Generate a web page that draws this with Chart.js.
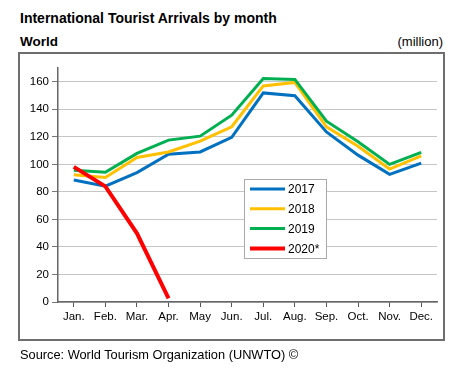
<!DOCTYPE html>
<html>
<head>
<meta charset="utf-8">
<script src="https://cdn.jsdelivr.net/npm/chart.js@4"></script>
<style>
  body { margin: 0; width: 466px; height: 379px; background: #fff; position: relative; overflow: hidden;
         font-family: "Liberation Sans", Arial, sans-serif; color: #000; }
  .txt { position: absolute; white-space: nowrap; line-height: 14px; }
  #frame { position: absolute; left: 18px; top: 52px; width: 427px; height: 289px;
           border: 2px solid #6e6e6e; box-sizing: border-box; }
  canvas { position: absolute; left: 0; top: 0; }
</style>
</head>
<body>
<div class="txt" style="left:20px; top:11px; font-size:14px; font-weight:bold;">International Tourist Arrivals by month</div>
<div class="txt" style="left:20px; top:35px; font-size:13.5px; font-weight:bold;">World</div>
<div class="txt" style="right:23px; top:35px; font-size:13px;">(million)</div>
<div id="frame"></div>
<canvas id="tourChart" width="466" height="379"></canvas>
<div class="txt" style="left:20px; top:348px; font-size:12.8px;">Source: World Tourism Organization (UNWTO) ©</div>
<script>
// month labels and arrivals (million)
const months = ["Jan.", "Feb.", "Mar.", "Apr.", "May", "Jun.", "Jul.", "Aug.", "Sep.", "Oct.", "Nov.", "Dec."];
const y2017 = [88.6, 84.2, 94, 107.4, 109, 119.6, 151.9, 149.8, 123.6, 106.7, 92.7, 100.9];
const y2018 = [92.4, 90.5, 105, 109, 116.9, 127.3, 157, 159.5, 127.3, 113.2, 96.6, 106.2];
const y2019 = [95.8, 94.2, 108, 117.6, 120.5, 135.7, 162.4, 161.7, 131.4, 116.4, 100, 108.7];
const y2020 = [98.2, 84, 49.9, 2.7];
const yTicks = [0, 20, 40, 60, 80, 100, 120, 140, 160];

// later series are drawn on top (lower order = on top)
const series = [
  { label: "2017", data: y2017, borderColor: "#0070C0", borderWidth: 3, order: 3 },
  { label: "2018", data: y2018, borderColor: "#FFC000", borderWidth: 3, order: 2 },
  { label: "2019", data: y2019, borderColor: "#00B050", borderWidth: 3, order: 1 },
  { label: "2020*", data: y2020, borderColor: "#FF0000", borderWidth: 4, order: 0 },
];

// legend box drawn inside the plot area
const boxLegend = {
  id: "boxLegend",
  afterDraw(chart) {
    const ctx = chart.ctx;
    ctx.save();
    ctx.fillStyle = "#fff";
    ctx.fillRect(244, 179, 82, 79);
    ctx.strokeStyle = "#aaa";
    ctx.lineWidth = 1;
    ctx.strokeRect(244.5, 179.5, 82, 79);
    ctx.font = "12px 'Liberation Sans', Arial, sans-serif";
    ctx.textBaseline = "middle";
    series.forEach((ds, i) => {
      const y = 189 + i * 19.8;
      ctx.strokeStyle = ds.borderColor;
      ctx.lineWidth = ds.borderWidth;
      ctx.beginPath();
      ctx.moveTo(250, y);
      ctx.lineTo(285, y);
      ctx.stroke();
      ctx.fillStyle = "#000";
      ctx.fillText(ds.label, 288, y + 1);
    });
    ctx.restore();
  },
};

const ctx = document.getElementById("tourChart").getContext("2d");
const chart = new Chart(ctx, {
  type: "line",
  data: {
    labels: months,
    datasets: series.map((s) => ({ ...s, fill: false, tension: 0, pointRadius: 0 })),
  },
  options: {
    responsive: false,
    animation: false,
    layout: { padding: { left: 0, top: 68, right: 29, bottom: 55 } },
    plugins: { legend: { display: false }, tooltip: { enabled: false } },
    scales: {
      x: {
        offset: true,
        grid: { drawOnChartArea: false, offset: false, tickLength: 5, tickColor: "#555", tickWidth: 1 },
        border: { color: "#666", width: 1.5 },
        ticks: { color: "#000", font: { family: "'Liberation Sans', Arial", size: 11.5 }, padding: 3, maxRotation: 0, autoSkip: false },
        afterFit: (s) => { s.height = 22; },
      },
      y: {
        min: 0,
        max: 170,
        ticks: { stepSize: 20, color: "#000", font: { family: "'Liberation Sans', Arial", size: 11.5 }, padding: 3 },
        afterBuildTicks: (s) => { s.ticks = yTicks.map((v) => ({ value: v })); },
        grid: { color: "#8c8c8c", tickColor: "#777", tickLength: 6, tickBorderDash: [] },
        border: { color: "#666", width: 1.5, dash: [1, 1] },
        afterFit: (s) => { s.width = 58; },
      },
    },
  },
  plugins: [boxLegend],
});
</script>
</body>
</html>
